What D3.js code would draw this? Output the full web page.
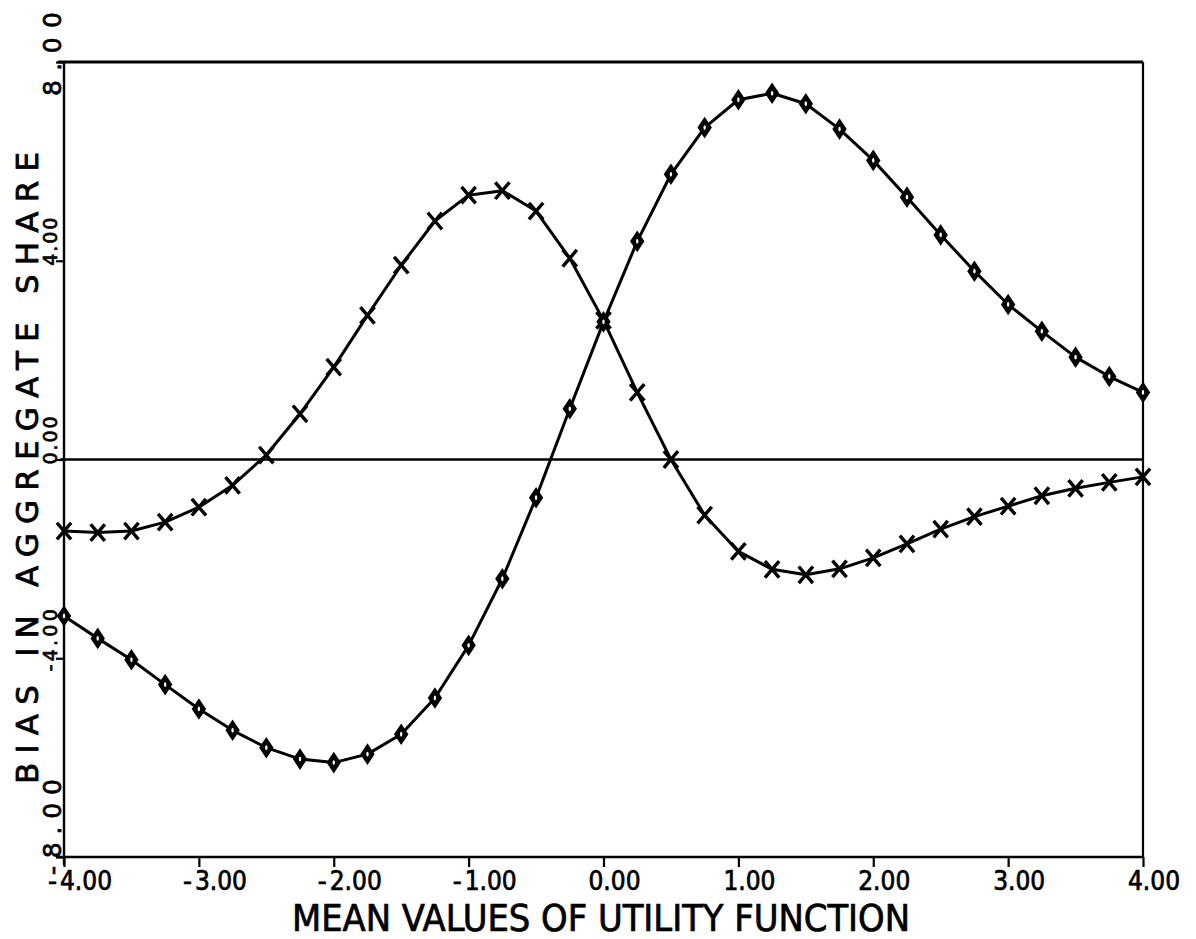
<!DOCTYPE html>
<html>
<head>
<meta charset="utf-8">
<script src="https://cdn.jsdelivr.net/npm/d3@7/dist/d3.min.js"></script>
<style>
  html, body { margin: 0; padding: 0; background: #fff; }
  svg { display: block; }
  text { font-family: "DejaVu Sans", sans-serif; fill: #000; }
  .narrow { font-family: "Liberation Sans Narrow", "DejaVu Sans Condensed", "DejaVu Sans", sans-serif; }
</style>
</head>
<body>
<svg id="chart" width="1196" height="939"></svg>
<script>
// ---- data ----
const xValues = [-4.00, -3.75, -3.50, -3.25, -3.00, -2.75, -2.50, -2.25, -2.00, -1.75, -1.50, -1.25,
                 -1.00, -0.75, -0.50, -0.25, 0.00, 0.25, 0.50, 0.75, 1.00, 1.25, 1.50, 1.75,
                 2.00, 2.25, 2.50, 2.75, 3.00, 3.25, 3.50, 3.75, 4.00];
const crossSeries = [-1.44, -1.47, -1.44, -1.26, -0.96, -0.52, 0.09, 0.92, 1.86, 2.90, 3.91, 4.80,
                     5.32, 5.41, 5.00, 4.05, 2.80, 1.35, 0.00, -1.12, -1.85, -2.21, -2.32, -2.20,
                     -1.98, -1.70, -1.40, -1.15, -0.94, -0.73, -0.58, -0.46, -0.35];
const diamondSeries = [-3.15, -3.60, -4.03, -4.53, -5.02, -5.45, -5.80, -6.03, -6.10, -5.93, -5.53, -4.80,
                       -3.74, -2.40, -0.77, 1.02, 2.77, 4.39, 5.74, 6.68, 7.24, 7.37, 7.16, 6.65,
                       6.02, 5.28, 4.52, 3.79, 3.12, 2.58, 2.06, 1.67, 1.35];
const xTicks = [-4, -3, -2, -1, 0, 1, 2, 3, 4];
const xTickLabels = ["-4.00", "-3.00", "-2.00", "-1.00", "0.00", "1.00", "2.00", "3.00", "4.00"];
const yTicks = [8, 4, 0, -4, -8];
const yTickLabels = ["8.00", "4.00", "0.00", "-4.00", "-8.00"];
const xTitle = "MEAN VALUES OF UTILITY FUNCTION";
const yTitle = "BIAS IN AGGREGATE SHARE";

// ---- layout ----
const svg = d3.select("#chart");
const pLeft = 64, pRight = 1143, pTop = 62, pBottom = 857;
const x = d3.scaleLinear().domain([-4, 4]).range([pLeft, pRight]);
const y = d3.scaleLinear().domain([-8, 8]).range([pBottom, pTop]);

// frame
const frame = svg.append("g").attr("stroke", "#000").attr("fill", "none");
frame.append("line").attr("x1", pLeft - 6).attr("x2", pRight).attr("y1", pTop).attr("y2", pTop).attr("stroke-width", 3);
frame.append("line").attr("x1", pLeft).attr("x2", pLeft).attr("y1", pTop).attr("y2", pBottom + 8).attr("stroke-width", 2.4);
frame.append("line").attr("x1", pRight).attr("x2", pRight).attr("y1", pTop).attr("y2", pBottom).attr("stroke-width", 2.2);
frame.append("line").attr("x1", pLeft - 6).attr("x2", pRight).attr("y1", pBottom).attr("y2", pBottom).attr("stroke-width", 2.6);
// zero line
frame.append("line").attr("x1", pLeft - 4).attr("x2", pRight).attr("y1", y(0)).attr("y2", y(0)).attr("stroke-width", 2.6);

// x ticks
const xAxis = d3.axisBottom(x).tickValues(xTicks).tickSize(10).tickFormat("");
const gx = svg.append("g").attr("transform", `translate(0,${pBottom})`).call(xAxis);
gx.select(".domain").remove();
gx.selectAll(".tick line").attr("stroke", "#000").attr("stroke-width", 2.2);

// y ticks
const yAxis = d3.axisLeft(y).tickValues(yTicks).tickSize(8).tickFormat("");
const gy = svg.append("g").attr("transform", `translate(${pLeft},0)`).call(yAxis);
gy.select(".domain").remove();
gy.selectAll(".tick line").attr("stroke", "#000").attr("stroke-width", 2.2);

// x tick labels (plotter style condensed)
xTicks.forEach((v, i) => {
  const lab = xTickLabels[i];
  const neg = lab.startsWith("-");
  const num = neg ? lab.slice(1) : lab;
  const tx = x(v);
  svg.append("text").attr("class", "narrow").attr("x", neg ? tx - 4 : tx - 15).attr("y", 890)
    .attr("font-size", 27).attr("textLength", 52).attr("lengthAdjust", "spacingAndGlyphs")
    .attr("stroke", "#000").attr("stroke-width", 0.7)
    .text(num);
  if (neg) {
    svg.append("text").attr("class", "narrow").attr("x", tx - 16).attr("y", 890)
      .attr("font-size", 27).attr("textLength", 9).attr("lengthAdjust", "spacingAndGlyphs")
      .attr("stroke", "#000").attr("stroke-width", 0.7)
      .text("-");
  }
});

// x title
svg.append("text").attr("class", "narrow").attr("x", 292).attr("y", 931)
  .attr("font-size", 37).attr("textLength", 618).attr("lengthAdjust", "spacingAndGlyphs")
  .attr("stroke", "#000").attr("stroke-width", 0.7)
  .text(xTitle);

// y title (rotated)
svg.append("text")
  .attr("transform", `translate(38,${468}) rotate(-90)`)
  .attr("text-anchor", "middle")
  .attr("font-size", 31).attr("textLength", 632).attr("lengthAdjust", "spacing")
  .attr("stroke", "#000").attr("stroke-width", 0.8)
  .text(yTitle);

// y tick labels (rotated, reading upward)
yTicks.forEach((v, i) => {
  const lab = yTickLabels[i];
  const extreme = (i === 0 || i === yTicks.length - 1);
  const neg = lab.startsWith("-");
  const fs = extreme ? 25 : 19;
  const bx = extreme ? 61 : 57;
  const len = extreme ? (neg ? 96 : 84) : (neg ? 62 : 48);
  const startOff = extreme ? (neg ? 18 : 34) : (neg ? 13 : 5);
  svg.append("text")
    .attr("transform", `translate(${bx},${y(v) + startOff}) rotate(-90)`)
    .attr("font-size", fs).attr("textLength", len).attr("lengthAdjust", "spacing")
    .attr("stroke", "#000").attr("stroke-width", 0.7)
    .text(lab);
});

// series lines
const line = d3.line().x((d, i) => x(xValues[i])).y(d => y(d));
svg.append("path").datum(crossSeries).attr("d", line)
  .attr("fill", "none").attr("stroke", "#000").attr("stroke-width", 3).attr("stroke-linejoin", "round");
svg.append("path").datum(diamondSeries).attr("d", line)
  .attr("fill", "none").attr("stroke", "#000").attr("stroke-width", 3).attr("stroke-linejoin", "round");

// cross markers
const cg = svg.append("g").attr("stroke", "#000").attr("stroke-width", 3.4).attr("stroke-linecap", "square");
crossSeries.forEach((v, i) => {
  const cx = x(xValues[i]), cy = y(v);
  cg.append("path").attr("d", `M${cx - 6},${cy - 7}L${cx + 6},${cy + 7}M${cx + 6},${cy - 7}L${cx - 6},${cy + 7}`);
});

// diamond markers
const dg = svg.append("g");
diamondSeries.forEach((v, i) => {
  const cx = x(xValues[i]), cy = y(v);
  dg.append("path").attr("d", `M${cx},${cy - 9}L${cx + 6},${cy}L${cx},${cy + 9}L${cx - 6},${cy}Z`)
    .attr("fill", "#000").attr("stroke", "#000").attr("stroke-width", 2);
  dg.append("ellipse").attr("cx", cx).attr("cy", cy).attr("rx", 1.2).attr("ry", 2.4).attr("fill", "#fff");
});
</script>
</body>
</html>
